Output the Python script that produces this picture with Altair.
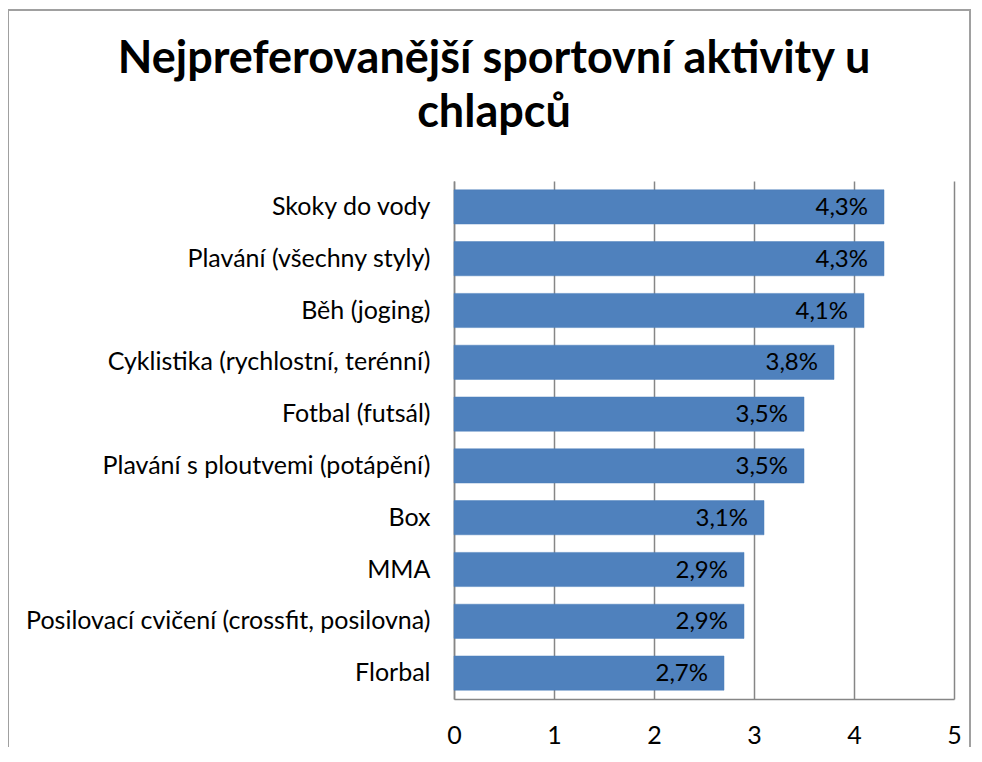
import altair as alt
import pandas as pd

categories = [
    "Skoky do vody",
    "Plavání (všechny styly)",
    "Běh (joging)",
    "Cyklistika (rychlostní, terénní)",
    "Fotbal (futsál)",
    "Plavání s ploutvemi (potápění)",
    "Box",
    "MMA",
    "Posilovací cvičení (crossfit, posilovna)",
    "Florbal ",
]
values = [4.3, 4.3, 4.1, 3.8, 3.5, 3.5, 3.1, 2.9, 2.9, 2.7]
labels = ["4,3%", "4,3%", "4,1%", "3,8%", "3,5%", "3,5%", "3,1%", "2,9%", "2,9%", "2,7%"]
x_ticks = [0, 1, 2, 3, 4, 5]
title_lines = ["Nejpreferovanější sportovní aktivity u", "chlapců"]

df = pd.DataFrame({"kat": categories, "val": values, "lab": labels})

FONT = "Lato"
W, H = 500, 518

y_enc = alt.Y("kat:N", sort=categories, scale=alt.Scale(paddingInner=0.34, paddingOuter=0.17),
              axis=alt.Axis(title=None, ticks=False, domain=True, domainColor="#868686",
                            domainWidth=1.5, labelFontSize=25, labelFont=FONT,
                            labelColor="#000000", labelPadding=24, labelLimit=0))

bars = alt.Chart(df).mark_bar(color="#4F81BD", stroke="#4A7EBB", strokeWidth=0.5).encode(
    x=alt.X("val:Q", scale=alt.Scale(domain=[0, 5], nice=False),
            axis=alt.Axis(values=x_ticks, title=None, grid=True, gridColor="#868686",
                          gridWidth=1.5, domainColor="#868686", domainWidth=1.5,
                          ticks=False, labelFontSize=25, labelFont=FONT, labelFlush=False,
                          labelColor="#000000", labelPadding=24, format="d")),
    y=y_enc,
)

text = alt.Chart(df).mark_text(align="right", baseline="middle", dx=-16, dy=1,
                               fontSize=24, font=FONT, color="#000000").encode(
    x="val:Q",
    y=alt.Y("kat:N", sort=categories),
    text="lab:N",
)

border = alt.Chart(df).mark_rect(fill=None, stroke="#A0A0A0", strokeWidth=1.5).encode(
    x=alt.value(-446), x2=alt.value(516), y=alt.value(-171), y2=alt.value(700)
)

chart = alt.layer(bars, text, border).properties(
    width=W, height=H,
    padding={"left": 446, "top": 173, "right": 18, "bottom": 48},
    autosize=alt.AutoSizeParams(type="none"),
    title=alt.TitleParams(title_lines, font=FONT, fontSize=45, fontWeight="bold",
                          color="#000000", lineHeight=54, anchor="middle", dx=-210,
                          baseline="alphabetic", offset=-163),
).configure_view(stroke=None).configure_axisY(grid=False)

chart.save("out.html", embed_options={"renderer": "svg", "actions": False})
